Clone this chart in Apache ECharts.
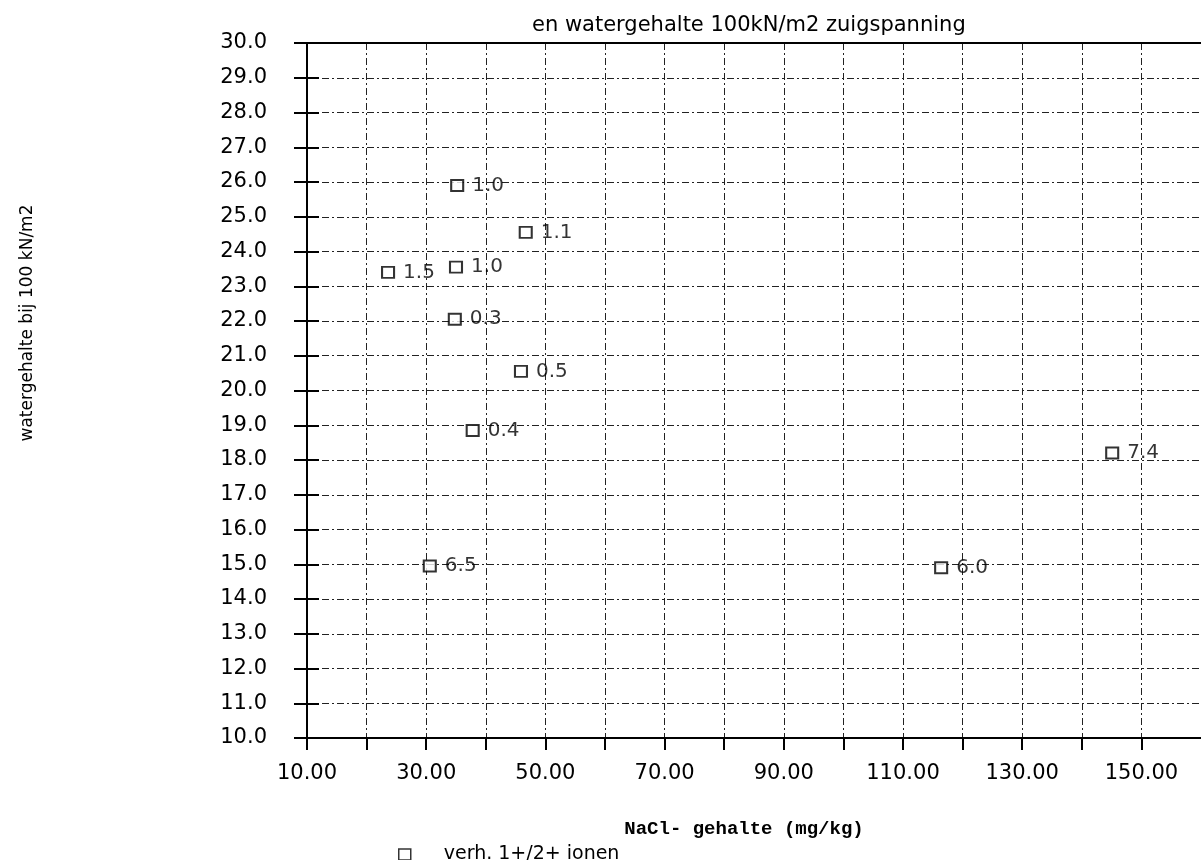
<!DOCTYPE html>
<html>
<head>
<meta charset="utf-8">
<script src="https://cdn.jsdelivr.net/npm/echarts@6/dist/echarts.min.js"></script>
<style>
  html, body { margin: 0; padding: 0; background: #fff; }
  #chart { width: 1201px; height: 860px; }
</style>
</head>
<body>
<div id="chart"></div>
<script>
// NaCl-gehalte (mg/kg) tegen watergehalte bij 100 kN/m2
const nacl = [35.2, 46.7, 23.6, 35.0, 34.8, 45.9, 37.8, 30.6, 116.4, 145.1];
const water = [25.9, 24.55, 23.4, 23.55, 22.05, 20.55, 18.85, 14.95, 14.9, 18.2];
const ratio = ['1.0', '1.1', '1.5', '1.0', '0.3', '0.5', '0.4', '6.5', '6.0', '7.4'];
const seriesName = 'verh. 1+/2+ ionen';

const chart = echarts.init(document.getElementById('chart'));

const gridDash = { color: '#222', width: 1, type: [7, 3, 2, 3] };
const font = 'DejaVu Sans';

const option = {
  animation: false,
  title: {
    text: 'en watergehalte 100kN/m2 zuigspanning',
    left: 527,
    top: 10,
    textStyle: { color: '#000', fontSize: 21, fontWeight: 'normal', fontFamily: font }
  },
  graphic: [
    {
      type: 'text',
      x: 28,
      y: 323,
      rotation: Math.PI / 2,
      style: {
        text: 'watergehalte bij 100 kN/m2',
        fill: '#000',
        font: '17px DejaVu Sans',
        textAlign: 'center',
        textVerticalAlign: 'middle'
      }
    }
  ],
  legend: {
    left: 393,
    top: 840,
    itemWidth: 12,
    itemHeight: 11,
    icon: 'rect',
    itemStyle: { color: '#fff', borderColor: '#000', borderWidth: 1.5 },
    textStyle: { color: '#000', fontSize: 19, fontFamily: font, padding: [0, 0, 0, 28] },
    data: [seriesName]
  },
  grid: { left: 307, top: 43, right: 0, bottom: 122, containLabel: false },
  xAxis: [
    {
      type: 'value',
      min: 10,
      max: 160,
      interval: 10,
      name: 'NaCl- gehalte (mg/kg)',
      nameLocation: 'middle',
      nameGap: 82,
      nameTextStyle: {
        color: '#000', fontSize: 19, fontWeight: 'bold', fontFamily: 'Liberation Mono',
        padding: [0, 20, 0, 0]
      },
      axisLine: { show: true, onZero: false, lineStyle: { color: '#000', width: 2 } },
      axisTick: { show: true, length: 12, lineStyle: { color: '#000', width: 2 } },
      axisLabel: {
        color: '#000',
        fontSize: 21,
        fontFamily: font,
        margin: 25,
        showMaxLabel: false,
        formatter: v => ((v - 10) % 20 === 0 ? v.toFixed(2) : '')
      },
      splitLine: { show: true, lineStyle: gridDash }
    },
    {
      type: 'value',
      position: 'top',
      min: 10,
      max: 160,
      axisLine: { show: true, lineStyle: { color: '#000', width: 2 } },
      axisTick: { show: false },
      axisLabel: { show: false },
      splitLine: { show: false }
    }
  ],
  yAxis: [
    {
      type: 'value',
      min: 10,
      max: 30,
      interval: 1,
      axisLine: { show: true, onZero: false, lineStyle: { color: '#000', width: 2 } },
      axisTick: { show: true, length: 13, lineStyle: { color: '#000', width: 2 } },
      axisLabel: { color: '#000', fontSize: 21, fontFamily: font, margin: 40, formatter: v => v.toFixed(1) },
      splitLine: { show: true, lineStyle: gridDash }
    },
    {
      type: 'value',
      position: 'left',
      min: 10,
      max: 30,
      interval: 1,
      axisLine: { show: false },
      axisTick: { show: true, inside: true, length: 12, lineStyle: { color: '#000', width: 2 } },
      axisLabel: { show: false },
      splitLine: { show: false }
    }
  ],
  series: [
    {
      name: seriesName,
      type: 'scatter',
      symbol: 'rect',
      symbolSize: [12, 11],
      itemStyle: { color: '#fff', borderColor: '#000', borderWidth: 2 },
      label: {
        show: true,
        position: 'right',
        distance: 8,
        color: '#000',
        fontSize: 20,
        fontFamily: font,
        formatter: p => ratio[p.dataIndex]
      },
      data: nacl.map((x, i) => [x, water[i]])
    }
  ]
};

chart.setOption(option);
</script>
</body>
</html>
